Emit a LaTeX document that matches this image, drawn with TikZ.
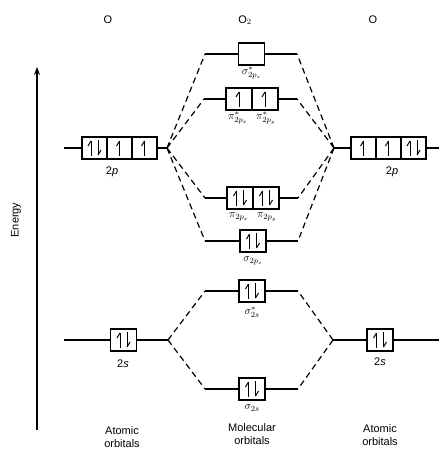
\documentclass[tikz,border=0pt]{standalone}
\usepackage{fontspec}
\setmainfont{Liberation Sans}
\usetikzlibrary{arrows.meta}
\begin{document}
\begin{tikzpicture}[x=1pt,y=-1pt,
  cell/.style={draw, line width=1.2pt, minimum width=26pt, minimum height=22pt, inner sep=0pt, outer sep=0pt},
  acell/.style={cell, minimum width=25pt},
  level/.style={line width=1.2pt},
  corr/.style={line width=1.2pt, dash pattern=on 6pt off 4pt},
  spin/.style={line width=1pt},
  lbl/.style={font=\fontsize{11}{12}\selectfont, inner sep=0pt},
  mlbl/.style={font=\fontsize{11}{12}\selectfont, inner sep=0pt},
  ttl/.style={font=\fontsize{11}{12.5}\selectfont, inner sep=0pt, align=center},
  spinu/.pic={\draw[spin] (0,-7) -- (0,8); \draw[spin] (0,-7) -- (-3,-2);},
  spind/.pic={\draw[spin] (0,7) -- (0,-8); \draw[spin] (0,7) -- (3,2);},
]
\useasboundingbox (0,0) rectangle (439,452);

% titles
\node[ttl] (tO1) at (108,20) {O};
\node[ttl] (tO2) at (245,20) {O$_2$};
\node[ttl] (tO3) at (373,20) {O};

% energy axis
\coordinate (eb) at (37,430);
\coordinate (et) at (37,67);
\draw[line width=1.2pt, -{Stealth[length=8pt,width=6pt]}] (eb) -- (et);
\node[lbl, rotate=90] (en) at (16,220) {Energy};

% left atomic 2p
\node[acell] (L1) at (94.5,148) {};
\node[acell] (L2) at (119.5,148) {};
\node[acell] (L3) at (144.5,148) {};
\path (L1.center) ++(-3.5,0) pic {spinu} (L1.center) ++(3.5,0) pic {spind};
\path (L2.center) pic {spinu};
\path (L3.center) pic {spinu};
\node[lbl] (L2pl) at (112,172) {2\textit{p}};
\coordinate (L2pa) at (64,148);
\coordinate (L2pf) at (167,148);
\draw[level] (L2pa) -- (L1.west) (L3.east) -- (L2pf);

% right atomic 2p
\node[acell] (R1) at (363.5,148) {};
\node[acell] (R2) at (388.5,148) {};
\node[acell] (R3) at (413.5,148) {};
\path (R1.center) pic {spinu};
\path (R2.center) pic {spinu};
\path (R3.center) ++(-3.5,0) pic {spinu} (R3.center) ++(3.5,0) pic {spind};
\node[lbl] (R2pl) at (392,172) {2\textit{p}};
\coordinate (R2pa) at (439,148);
\coordinate (R2pf) at (334,148);
\draw[level] (R2pf) -- (R1.west) (R3.east) -- (R2pa);

% left atomic 2s
\node[cell] (LS) at (123.5,340) {};
\path (LS.center) ++(-3.5,0) pic {spinu} (LS.center) ++(3.5,0) pic {spind};
\node[lbl] (LSl) at (123,364) {2\textit{s}};
\coordinate (LSa) at (64,340);
\coordinate (LSf) at (168,340);
\draw[level] (LSa) -- (LS.west) (LS.east) -- (LSf);

% right atomic 2s
\node[cell] (RS) at (380,340) {};
\path (RS.center) ++(-3.5,0) pic {spinu} (RS.center) ++(3.5,0) pic {spind};
\node[lbl] (RSl) at (380,362) {2\textit{s}};
\coordinate (RSa) at (439,340);
\coordinate (RSf) at (333,340);
\draw[level] (RSf) -- (RS.west) (RS.east) -- (RSa);

% sigma* 2pz
\node[cell] (ss) at (251.5,54) {};
\node[mlbl] (ssl) at (251.5,73) {$\sigma^*_{2p_z}$};
\coordinate (ssL) at (205,54);
\coordinate (ssR) at (297,54);
\draw[level] (ssL) -- (ss.west) (ss.east) -- (ssR);

% pi* 2p
\node[cell] (ps1) at (239,99) {};
\node[cell] (ps2) at (265,99) {};
\path (ps1.center) pic {spinu};
\path (ps2.center) pic {spinu};
\node[mlbl] (ps1l) at (238,118) {$\pi^*_{2p_x}$};
\node[mlbl] (ps2l) at (266,118) {$\pi^*_{2p_y}$};
\coordinate (psL) at (204,99);
\coordinate (psR) at (297,99);
\draw[level] (psL) -- (ps1.west) (ps2.east) -- (psR);

% pi 2p
\node[cell] (p1) at (240,198) {};
\node[cell] (p2) at (266,198) {};
\path (p1.center) ++(-3.5,0) pic {spinu} (p1.center) ++(3.5,0) pic {spind};
\path (p2.center) ++(-3.5,0) pic {spinu} (p2.center) ++(3.5,0) pic {spind};
\node[mlbl] (p1l) at (239,217) {$\pi_{2p_x}$};
\node[mlbl] (p2l) at (267,217) {$\pi_{2p_y}$};
\coordinate (pL) at (205,198);
\coordinate (pR) at (298,198);
\draw[level] (pL) -- (p1.west) (p2.east) -- (pR);

% sigma 2pz
\node[cell] (s) at (253,241) {};
\path (s.center) ++(-3.5,0) pic {spinu} (s.center) ++(3.5,0) pic {spind};
\node[mlbl] (sl) at (253,261) {$\sigma_{2p_z}$};
\coordinate (sL) at (205,241);
\coordinate (sR) at (298,241);
\draw[level] (sL) -- (s.west) (s.east) -- (sR);

% sigma* 2s
\node[cell] (tss) at (252,291) {};
\path (tss.center) ++(-3.5,0) pic {spinu} (tss.center) ++(3.5,0) pic {spind};
\node[mlbl] (tssl) at (252,312) {$\sigma^*_{2s}$};
\coordinate (tssL) at (205,291);
\coordinate (tssR) at (298,291);
\draw[level] (tssL) -- (tss.west) (tss.east) -- (tssR);

% sigma 2s
\node[cell] (ts) at (252,389) {};
\path (ts.center) ++(-3.5,0) pic {spinu} (ts.center) ++(3.5,0) pic {spind};
\node[mlbl] (tsl) at (252,408) {$\sigma_{2s}$};
\coordinate (tsL) at (205,389);
\coordinate (tsR) at (298,389);
\draw[level] (tsL) -- (ts.west) (ts.east) -- (tsR);

% correlation lines
\draw[corr] (L2pf) -- (ssL) (L2pf) -- (psL) (L2pf) -- (pL) (L2pf) -- (sL);
\draw[corr] (R2pf) -- (ssR) (R2pf) -- (psR) (R2pf) -- (pR) (R2pf) -- (sR);
\draw[corr] (LSf) -- (tssL) (LSf) -- (tsL);
\draw[corr] (RSf) -- (tssR) (RSf) -- (tsR);

% bottom captions
\node[ttl] (capL) at (122,437) {Atomic\\orbitals};
\node[ttl] (capM) at (252,434) {Molecular\\orbitals};
\node[ttl] (capR) at (380,435) {Atomic\\orbitals};
\end{tikzpicture}
\end{document}
